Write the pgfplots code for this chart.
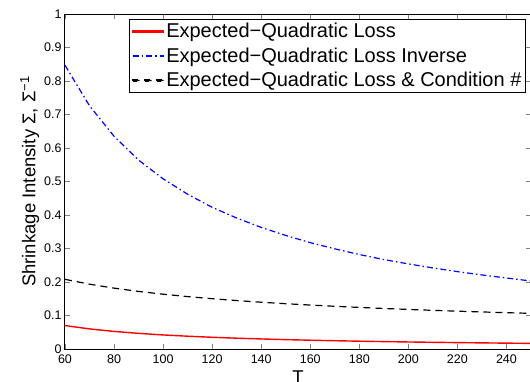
\documentclass[border=0pt]{standalone}
\usepackage{pgfplots}
\pgfplotsset{compat=1.18}
\usepackage{fontspec}
\setmainfont{Liberation Sans}
\begin{document}
\begin{tikzpicture}[x=1pt,y=1pt]
\begin{axis}[
  at={(0,0)}, anchor=south west,
  scale only axis, width=466pt, height=335pt,
  xmin=60, xmax=250, ymin=0, ymax=1,
  xtick={60,80,...,240}, ytick={0,0.1,...,1},
  yticklabels={0,0.1,0.2,0.3,0.4,0.5,0.6,0.7,0.8,0.9,1},
  tick align=inside, major tick length=5pt,
  xtick pos=both, ytick pos=both,
  ticklabel style={font=\fontsize{12.5}{14}\selectfont},
  xticklabel style={yshift=-2pt},
  /pgf/number format/assume math mode=true,
  xlabel={T}, ylabel={Shrinkage Intensity Σ, Σ\textsuperscript{−1}},
  label style={font=\fontsize{18.5}{20}\selectfont},
  xlabel style={yshift=-1pt},
  ylabel style={yshift=-2pt},
  axis line style={line width=1pt},
  legend style={at={(0.989,0.985)}, anchor=north east, line width=0.8pt,
    font=\fontsize{20}{22}\selectfont, row sep=4.5pt, inner sep=2pt,
    cells={anchor=west}},
]
\addplot[color=red, line width=1.4pt,
  legend image code/.code={\fill[fill=red] (0pt,-0.7pt) rectangle (31pt,0.7pt);}] coordinates {
(60,0.070)(70,0.060)(80,0.0525)(90,0.0467)(100,0.042)(110,0.0382)(120,0.035)(130,0.0323)(140,0.030)(150,0.028)(160,0.02625)(170,0.0247)(180,0.0233)(190,0.0221)(200,0.021)(210,0.020)(220,0.0191)(230,0.0183)(240,0.0175)(250,0.0168)};
\addlegendentry{Expected−Quadratic Loss}
\addplot[color=blue, line width=1.2pt, dash pattern=on 6pt off 3pt on 1.5pt off 3pt,
  legend image code/.code={\draw[draw=blue, line width=1.2pt, dash pattern=on 6pt off 3pt on 1.5pt off 3pt] (0pt,0pt) -- (31pt,0pt);}] coordinates {
(60,0.847)(70,0.726)(80,0.635)(90,0.564)(100,0.508)(110,0.462)(120,0.423)(130,0.391)(140,0.363)(150,0.339)(160,0.3175)(170,0.299)(180,0.282)(190,0.267)(200,0.254)(210,0.242)(220,0.231)(230,0.221)(240,0.212)(250,0.203)};
\addlegendentry{Expected−Quadratic Loss Inverse}
\addplot[color=black, line width=1.2pt, dash pattern=on 7pt off 5pt,
  legend image code/.code={\fill[fill=black] (0pt,-0.6pt) rectangle (7pt,0.6pt) (12pt,-0.6pt) rectangle (19pt,0.6pt) (24pt,-0.6pt) rectangle (31pt,0.6pt);}] coordinates {
(60,0.208)(70,0.1935)(80,0.1817)(90,0.1719)(100,0.1636)(110,0.1564)(120,0.1502)(130,0.1446)(140,0.1397)(150,0.1352)(160,0.1312)(170,0.1275)(180,0.1241)(190,0.1210)(200,0.1181)(210,0.1154)(220,0.1129)(230,0.1106)(240,0.1084)(250,0.1064)};
\addlegendentry{Expected−Quadratic Loss \& Condition \#}
\end{axis}
\pgfresetboundingbox
\useasboundingbox (-65,-32) rectangle (465,349);
\end{tikzpicture}
\end{document}
